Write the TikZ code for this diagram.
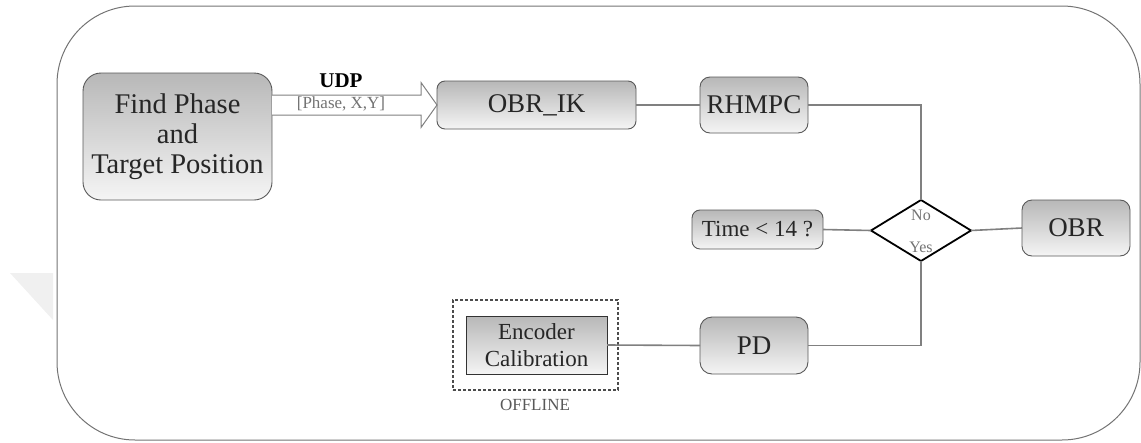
\documentclass[tikz,border=0pt]{standalone}
\usepackage{fontspec}
\setmainfont{Liberation Serif}
\usetikzlibrary{shapes.geometric,calc}

\tikzset{
  every node/.style={inner sep=0pt, outer sep=0pt, text=black!85},
  block/.style={draw=black!65, line width=0.9pt, top color=black!28, bottom color=black!4,
                rounded corners=#1, align=center},
  block/.default=10pt,
  link/.style={draw=black!50, line width=1.6pt},
  decide/.style={diamond, draw=black, line width=1.8pt, fill=white},
  big/.style={font=\fontsize{27}{30}\selectfont},
  mid/.style={font=\fontsize{23}{27}\selectfont},
  small/.style={font=\fontsize{16}{18}\selectfont, text=black!55},
}

\begin{document}
\begin{tikzpicture}[x=1pt, y=-1pt]
  \useasboundingbox (0,0) rectangle (1141,442);

  % faint mark at the left margin
  \fill[black!6] (10,273) -- (53,273) -- (53,320) -- cycle;

  % outer frame
  \draw[draw=black!55, line width=1pt, rounded corners=78pt] (57,6) rectangle (1140,440);

  % blocks
  \node[block=18pt, minimum width=189pt, minimum height=127pt, font=\fontsize{28.5}{30}\selectfont]
       (find) at (177.5,136.5) {Find Phase\\and\\Target Position};
  \node[block=8pt, big, minimum width=199pt, minimum height=48pt] (obrik) at (536.5,105) {OBR\_IK};
  \node[block=10pt, big, minimum width=108pt, minimum height=56pt] (rhmpc) at (754,105) {RHMPC};
  \node[decide, minimum width=100pt, minimum height=61pt] (dec) at (921,230.5) {};
  \node[small] (no) at (921,215) {No};
  \node[small] (yes) at (921,247) {Yes};
  \node[block=8pt, mid, minimum width=131pt, minimum height=39pt] (time) at (757.5,229.5) {Time < 14 ?};
  \node[block=10pt, big, minimum width=108pt, minimum height=56pt] (obr) at (1076,228) {OBR};
  \node[block=12pt, big, minimum width=108pt, minimum height=57pt] (pd) at (754,345.5) {PD};
  \node[block=0pt, mid, minimum width=141pt, minimum height=58pt, draw=black!80] (enc) at (536.5,345) {Encoder\\Calibration};
  \node[draw=black!70, dash pattern=on 3pt off 2pt, line width=1.1pt, minimum width=165pt, minimum height=90pt] (offbox) at (535.5,345) {};
  \node[font=\fontsize{17}{20}\selectfont, text=black!65] (offline) at (535,405) {OFFLINE};

  % hollow transfer arrow
  \coordinate (a0) at (find.east |- obrik.west);
  \coordinate (a1) at (obrik.west);
  \draw[draw=black!50, line width=1pt, fill=white]
    ($(a0)+(0,-10)$) -- ($(a1)+(-16,-10)$) -- ($(a1)+(-16,-22.5)$) -- (a1)
    -- ($(a1)+(-16,22.5)$) -- ($(a1)+(-16,10)$) -- ($(a0)+(0,10)$);
  \node[font=\bfseries\fontsize{21}{22}\selectfont, text=black] (udp) at (341,81) {UDP};
  \node[font=\fontsize{17}{18}\selectfont, text=black!55] (payload) at (341,104) {[Phase, X,Y]};

  % connectors
  \draw[link] (obrik.east) -- (rhmpc.west);
  \draw[link] (rhmpc.east) -| (dec.north);
  \draw[link] (time.east) -- (dec.west);
  \draw[link] (dec.east) -- (obr.west);
  \draw[link] (dec.south) |- (pd.east);
  \draw[link] (enc.east) -- (pd.west);
\end{tikzpicture}
\end{document}
